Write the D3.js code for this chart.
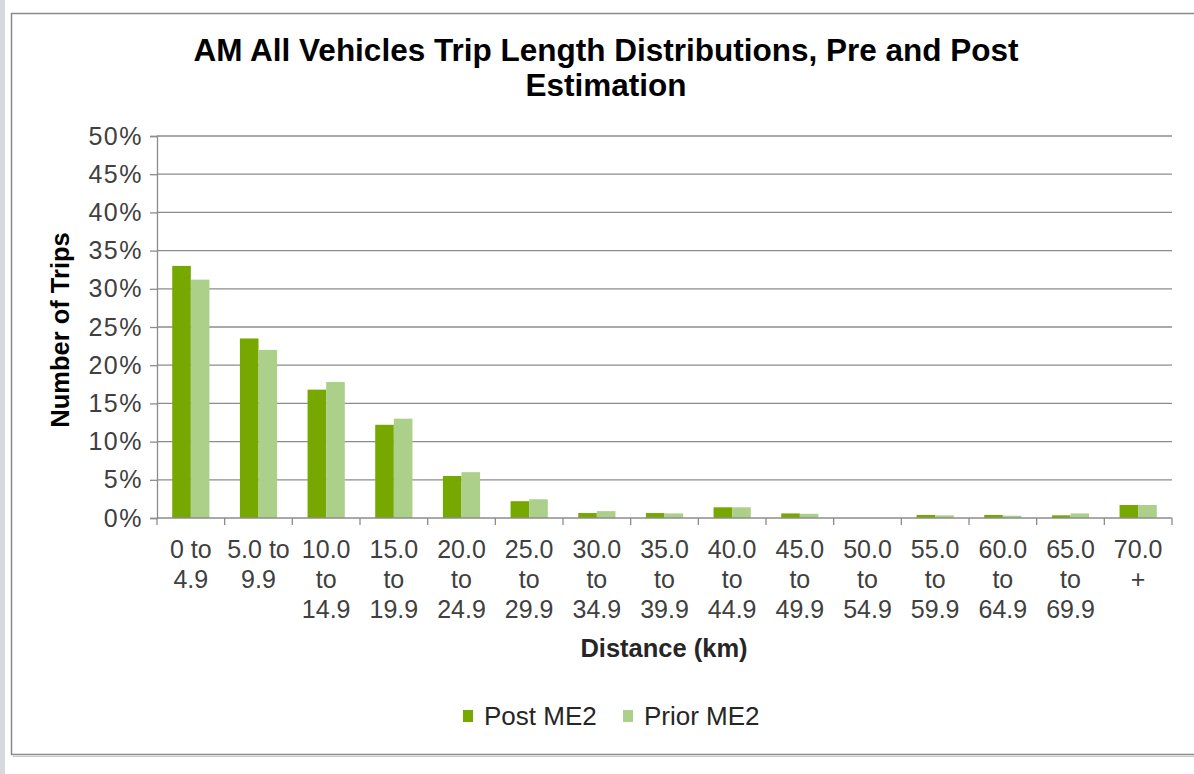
<!DOCTYPE html>
<html>
<head>
<meta charset="utf-8">
<script src="https://cdn.jsdelivr.net/npm/d3@7"></script>
<style>
  html, body { margin: 0; padding: 0; background: #ffffff; }
  svg { display: block; font-family: "Liberation Sans", Arial, sans-serif; }
</style>
</head>
<body>
<svg id="chart" width="1194" height="774"></svg>
<script>
// Trip length bands (km), each label split over lines
const categories = [
  ["0 to", "4.9"],
  ["5.0 to", "9.9"],
  ["10.0", "to", "14.9"],
  ["15.0", "to", "19.9"],
  ["20.0", "to", "24.9"],
  ["25.0", "to", "29.9"],
  ["30.0", "to", "34.9"],
  ["35.0", "to", "39.9"],
  ["40.0", "to", "44.9"],
  ["45.0", "to", "49.9"],
  ["50.0", "to", "54.9"],
  ["55.0", "to", "59.9"],
  ["60.0", "to", "64.9"],
  ["65.0", "to", "69.9"],
  ["70.0", "+"]
];
const seriesNames = ["Post ME2", "Prior ME2"];
// Share of trips (%) per band
const postME2  = [33.0, 23.5, 16.8, 12.2, 5.5, 2.2, 0.65, 0.65, 1.4, 0.6, 0.0, 0.4, 0.4, 0.35, 1.7];
const priorME2 = [31.2, 22.0, 17.8, 13.0, 6.0, 2.45, 0.9, 0.6, 1.4, 0.55, 0.0, 0.35, 0.3, 0.6, 1.7];
const yTicks = [0, 5, 10, 15, 20, 25, 30, 35, 40, 45, 50];

const colors = ["#76a800", "#acd08a"];
const svg = d3.select("#chart");

// Page strip and chart frame
svg.append("rect").attr("x", 0).attr("y", 0).attr("width", 5).attr("height", 774).attr("fill", "#d6d9dd");
svg.append("rect").attr("x", 11.5).attr("y", 13.5).attr("width", 1200).attr("height", 741)
  .attr("fill", "#ffffff").attr("stroke", "#8a8a8a").attr("stroke-width", 1.5);
svg.append("line").attr("x1", 13).attr("x2", 1194).attr("y1", 756.5).attr("y2", 756.5)
  .attr("stroke", "#c8c8c8").attr("stroke-width", 1);

const plot = { left: 157, right: 1172, top: 136, bottom: 518 };

const x = d3.scaleBand()
  .domain(d3.range(categories.length))
  .range([plot.left, plot.right])
  .paddingInner(0.45)
  .paddingOuter(0.225);
const xs = d3.scaleBand().domain([0, 1]).range([0, x.bandwidth()]);
const y = d3.scaleLinear().domain([0, 50]).range([plot.bottom, plot.top]);

// Gridlines
svg.append("g")
  .selectAll("line")
  .data(yTicks.filter(d => d > 0))
  .join("line")
  .attr("x1", plot.left).attr("x2", plot.right)
  .attr("y1", d => y(d)).attr("y2", d => y(d))
  .attr("stroke", "#8c8c8c").attr("stroke-width", 1.3);

// Bars
const rows = categories.map((c, i) => [postME2[i], priorME2[i]]);
const groups = svg.append("g").selectAll("g")
  .data(rows)
  .join("g")
  .attr("transform", (d, i) => `translate(${x(i)},0)`);
groups.selectAll("rect")
  .data(d => d)
  .join("rect")
  .attr("x", (d, j) => xs(j))
  .attr("width", xs.bandwidth())
  .attr("y", d => y(d))
  .attr("height", d => plot.bottom - y(d))
  .attr("fill", (d, j) => colors[j]);

// Y axis
const yAxis = d3.axisLeft(y).tickValues(yTicks).tickSize(7).tickPadding(7)
  .tickFormat(d => d + "%");
const yg = svg.append("g").attr("transform", `translate(${plot.left},0)`).call(yAxis);
yg.select(".domain").attr("stroke", "#8c8c8c").attr("stroke-width", 1.3);
yg.selectAll(".tick line").attr("stroke", "#8c8c8c").attr("stroke-width", 1.3);
yg.selectAll(".tick text").attr("font-size", 25).attr("fill", "#404040")
  .attr("letter-spacing", 1.5)
  .attr("font-family", "Liberation Sans, Arial, sans-serif");

// X axis with boundary ticks between bands
const xBounds = d3.range(categories.length + 1).map(i => plot.left + i * (plot.right - plot.left) / categories.length);
const xg = svg.append("g");
xg.append("line").attr("x1", plot.left).attr("x2", plot.right)
  .attr("y1", plot.bottom).attr("y2", plot.bottom)
  .attr("stroke", "#8c8c8c").attr("stroke-width", 1.3);
xg.selectAll("line.tk").data(xBounds).join("line").attr("class", "tk")
  .attr("x1", d => d).attr("x2", d => d)
  .attr("y1", plot.bottom).attr("y2", plot.bottom + 7)
  .attr("stroke", "#8c8c8c").attr("stroke-width", 1.3);

const labels = xg.selectAll("text.cat")
  .data(categories)
  .join("text")
  .attr("class", "cat")
  .attr("text-anchor", "middle")
  .attr("font-size", 25)
  .attr("fill", "#404040");
labels.each(function(lines, i) {
  const t = d3.select(this);
  const cx = x(i) + x.bandwidth() / 2;
  lines.forEach((ln, k) => {
    t.append("tspan").attr("x", cx).attr("y", 558 + k * 30).text(ln);
  });
});

// Axis titles
svg.append("text")
  .attr("x", 664).attr("y", 657)
  .attr("text-anchor", "middle")
  .attr("font-size", 25.5).attr("font-weight", "bold").attr("fill", "#262626")
  .text("Distance (km)");
svg.append("text")
  .attr("transform", "translate(69,330) rotate(-90)")
  .attr("text-anchor", "middle")
  .attr("font-size", 25.5).attr("font-weight", "bold").attr("fill", "#000000")
  .text("Number of Trips");

// Title
const title = svg.append("text")
  .attr("text-anchor", "middle")
  .attr("font-size", 31.5).attr("font-weight", "bold").attr("fill", "#000000");
title.append("tspan").attr("x", 606).attr("y", 61).text("AM All Vehicles Trip Length Distributions, Pre and Post");
title.append("tspan").attr("x", 606).attr("y", 96).text("Estimation");

// Legend
const legendX = [463, 623];
const lg = svg.append("g").selectAll("g")
  .data(seriesNames)
  .join("g")
  .attr("transform", (d, i) => `translate(${legendX[i]},710)`);
lg.append("rect").attr("width", 10).attr("height", 12).attr("y", 0)
  .attr("fill", (d, i) => colors[i]);
lg.append("text").attr("x", 21).attr("y", 15)
  .attr("font-size", 26).attr("fill", "#262626")
  .text(d => d);
</script>
</body>
</html>
